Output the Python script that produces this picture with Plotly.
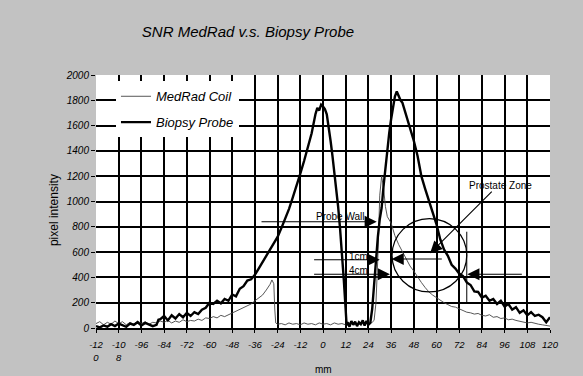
import plotly.graph_objects as go

# ---- data ----
probe_x = [-120,-118,-116,-114,-112,-110,-108,-106,-104,-102,-100,-98,-96,-94,-92,-90,-88,-87,-86,-84,-82,-80,-78,-76,-74,-72,-70,-68,-66,-64,-62,-60,-58,-56,-54,-52,-50,-48,-46,-44,-42,-40,-38,-36,-34,-32,-30,-28,-26,-24,-22,-20,-18,-16,-14,-12,-10,-8,-6,-4,-3,-2,-1,0,1,2,3,4,5,6,7,8,9,10,11,12,12.5,13,14,15,16,17,18,19,20,21,22,23,24,25,26,27,28,29,30,31,32,33,34,35,36,37,38,39,40,41,42,43,44,46,48,50,52,54,56,58,60,62,64,66,68,70,72,74,76,78,80,82,84,86,88,90,92,94,96,98,100,102,104,106,108,110,112,114,116,118,120]
probe_y = [15,5,20,10,30,15,35,20,10,35,25,45,20,40,30,15,25,65,70,95,60,100,75,110,85,120,95,125,110,145,160,200,190,215,195,230,215,265,250,310,330,375,385,420,470,520,570,610,660,720,790,860,940,1030,1120,1220,1320,1420,1540,1690,1740,1720,1765,1750,1730,1690,1600,1480,1360,1240,1110,960,790,600,380,140,20,45,10,55,25,50,15,45,30,60,20,55,25,40,150,340,560,720,860,950,1120,1280,1400,1540,1650,1750,1830,1870,1830,1800,1780,1730,1700,1600,1480,1360,1200,1100,1010,920,820,700,620,570,500,470,430,410,360,340,290,285,240,255,215,230,190,215,170,190,145,165,120,140,100,125,95,105,85,45,85]

medrad_x = [-120,-118,-116,-114,-112,-110,-108,-106,-104,-102,-100,-98,-96,-94,-92,-90,-88,-86,-84,-82,-80,-78,-76,-74,-72,-70,-68,-66,-64,-62,-60,-58,-56,-54,-52,-50,-48,-46,-44,-42,-40,-38,-36,-34,-32,-30,-28,-27,-26,-25.5,-25,-24,-22,-20,-18,-16,-14,-12,-10,-8,-6,-4,-2,0,2,4,6,8,10,12,14,16,18,20,22,24,26,27,28,29,30,31,32,33,34,36,38,40,42,44,46,48,50,52,54,56,58,60,62,64,66,68,70,72,74,76,78,80,82,84,86,88,90,92,94,96,98,100,102,104,106,108,110,112,114,116,118,120]
medrad_y = [35,50,25,45,30,55,35,50,25,45,30,55,35,50,30,45,40,55,45,60,40,55,45,65,50,60,55,70,60,80,75,90,80,100,90,105,115,135,150,160,175,190,215,235,260,300,345,380,350,150,40,30,35,25,40,30,35,25,40,30,35,25,40,30,35,25,40,30,35,25,40,30,35,30,40,30,45,60,200,560,1050,1200,1110,960,880,830,730,660,600,550,490,450,400,360,320,285,260,240,215,200,185,170,165,150,140,125,120,110,115,100,95,105,85,90,75,80,65,70,60,55,50,40,45,35,30,25,20,15]

x_ticks = [-120,-108,-96,-84,-72,-60,-48,-36,-24,-12,0,12,24,36,48,60,72,84,96,108,120]
x_tick_text = ["-12<br>0","-10<br>8","-96","-84","-72","-60","-48","-36","-24","-12","0","12","24","36","48","60","72","84","96","108","120"]
y_ticks = [0,200,400,600,800,1000,1200,1400,1600,1800,2000]

FONT = "Liberation Sans, Arial, sans-serif"

fig = go.Figure()
fig.add_trace(go.Scatter(x=medrad_x, y=medrad_y, mode="lines", name="MedRad Coil",
                         line=dict(color="#444444", width=0.9), legendgroup="a"))
fig.add_trace(go.Scatter(x=probe_x, y=probe_y, mode="lines", name="Biopsy Probe",
                         line=dict(color="black", width=2.4), legendgroup="b"))

# annotations: arrows (head at x,y ; tail at ax,ay)
arrows = [
    (28.4, 840, -33.3, 840),   # Probe Wall
    (30.0, 540, -5.5, 540),    # 1cm
    (35.4, 425, -5.5, 425),    # 4cm
    (36.3, 545, 63.6, 545),    # left arrow in circle
    (76.3, 425, 105.9, 425),   # right arrow
    (56.6, 590, 90, 1090),     # Prostate Zone pointer
]
for hx, hy, tx, ty in arrows:
    fig.add_annotation(x=hx, y=hy, ax=tx, ay=ty, xref="x", yref="y", axref="x", ayref="y",
                       text="", showarrow=True, arrowhead=2, arrowsize=2.2, arrowwidth=1.1,
                       arrowcolor="black", standoff=0, startstandoff=0)

labels = [("Probe Wall", 9, 878), ("1cm", 18.5, 568), ("4cm", 18.5, 452), ("Prostate Zone", 93.6, 1130)]
for t, lx, ly in labels:
    fig.add_annotation(x=lx, y=ly, xref="x", yref="y", text=t, showarrow=False,
                       font=dict(family=FONT, size=10, color="black"))

fig.add_shape(type="circle", xref="x", yref="y", x0=36.5, x1=76, y0=285, y1=865,
              line=dict(color="black", width=1.2))
fig.add_shape(type="line", xref="x", yref="y", x0=76, x1=76, y0=195, y1=761,
              line=dict(color="black", width=1))

fig.add_annotation(x=-0.0925, y=0.466, xref="paper", yref="paper", text="pixel intensity",
                   xanchor="center", yanchor="middle",
                   textangle=-90, showarrow=False, font=dict(family=FONT, size=12, color="black"))
fig.add_annotation(x=0.5, y=-0.166, xref="paper", yref="paper", text="mm",
                   xanchor="center", yanchor="middle",
                   showarrow=False, font=dict(family=FONT, size=10, color="black"))

fig.update_layout(
    width=583, height=376,
    margin=dict(l=96, r=33, t=75, b=48),
    paper_bgcolor="#c2c2c2", plot_bgcolor="white",
    title=dict(text="SNR MedRad v.s. Biopsy Probe", x=248/583, xref="container", xanchor="center",
               y=1-32/376, yref="container", yanchor="middle",
               font=dict(family=FONT, size=15, color="black", style="italic")),
    showlegend=True,
    legend=dict(x=0.044, y=0.975, xanchor="left", yanchor="top", bgcolor="white",
                font=dict(family=FONT, size=13, color="black", style="italic"),
                tracegroupgap=6, itemwidth=30),
    xaxis=dict(range=[-120, 120], tickvals=x_ticks, ticktext=x_tick_text,
               showgrid=True, gridcolor="black", gridwidth=1.5, zeroline=False,
               ticks="outside", ticklen=3, tickcolor="black", ticklabelstandoff=4,
               tickfont=dict(family=FONT, size=9.5, color="black", style="italic"),
               showline=True, linecolor="black", linewidth=1.5),
    yaxis=dict(range=[0, 2000], tickvals=y_ticks,
               showgrid=True, gridcolor="black", gridwidth=1.5, zeroline=False,
               ticks="outside", ticklen=4, tickcolor="black",
               tickfont=dict(family=FONT, size=10, color="black", style="italic")),
)

fig.write_html("out.html", config={"displayModeBar": False},
               post_script="document.body.style.margin='0';")
